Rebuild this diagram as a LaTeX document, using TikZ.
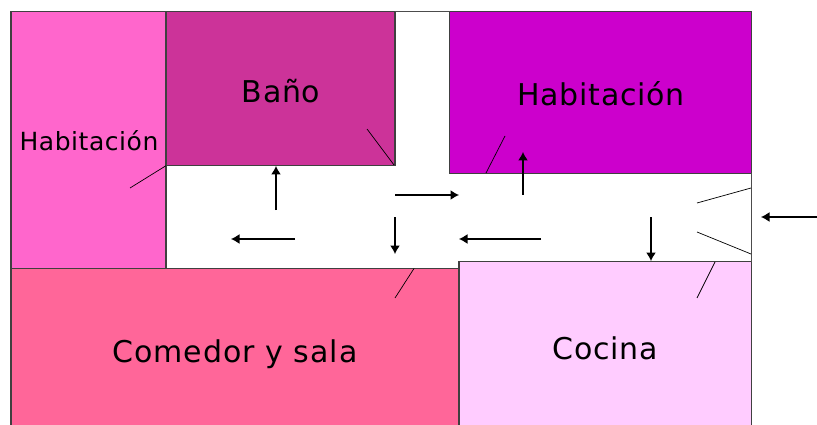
\documentclass[tikz,border=0pt]{standalone}
\usepackage{fontspec}
\setmainfont[LetterSpace=2.2]{DejaVu Sans}
\newfontfamily\widefont[LetterSpace=3.4]{DejaVu Sans}
\usetikzlibrary{arrows.meta}
\definecolor{hleft}{HTML}{FF66CC}
\definecolor{hbano}{HTML}{CC3399}
\definecolor{hright}{HTML}{CC00CC}
\definecolor{hcomedor}{HTML}{FF6699}
\definecolor{hcocina}{HTML}{FFCCFF}
\tikzset{
  room/.style={draw=black!75,line width=1.1pt},
  label/.style={inner sep=0pt,anchor=base,text=black,font=\fontsize{30}{30}\selectfont},
  widelabel/.style={inner sep=0pt,anchor=base,text=black,font=\widefont\fontsize{30}{30}\selectfont},
  smalllabel/.style={inner sep=0pt,anchor=base,text=black,font=\fontsize{25}{25}\selectfont},
  door/.style={draw=black,line width=0.7pt},
  flow/.style={draw=black,line width=1.3pt,-{Latex[length=8.5pt,width=10pt]}},
  wall/.style={draw=black!70,line width=0.8pt}
}
\begin{document}
\begin{tikzpicture}[x=1pt,y=-1pt]
\useasboundingbox (0,0) rectangle (817,425);
% rooms
\filldraw[room,fill=hleft] (11,11.5) rectangle (166,268.5);
\filldraw[room,fill=hbano] (166,11.5) rectangle (395,165.7);
\filldraw[room,fill=hright] (449.7,11.5) rectangle (751.5,173.5);
\filldraw[room,fill=hcomedor] (11,268.5) rectangle (459,427);
\filldraw[room,fill=hcocina] (459,261.7) rectangle (751.5,427);
% walls
\draw[wall] (395,11.5) -- (449.7,11.5);
\draw[wall] (751.5,173.5) -- (751.5,261.7);
% door leaves
\draw[door] (130,188) -- (166,165.7);
\draw[door] (367,129) -- (394,165);
\draw[door] (486,173) -- (505,136);
\draw[door] (395,298) -- (414,268.5);
\draw[door] (697,298) -- (715,262);
\draw[door] (697,203) -- (751,188);
\draw[door] (697,232) -- (751,254);
% flow arrows
\draw[flow] (276,210) -- (276,166);
\draw[flow] (395,195) -- (459,195);
\draw[flow] (523,195) -- (523,152);
\draw[flow] (295,239) -- (231,239);
\draw[flow] (395,217) -- (395,254);
\draw[flow] (541,239) -- (459,239);
\draw[flow] (651,217) -- (651,261);
\draw[flow] (817,217) -- (761,217);
% labels
\node[smalllabel] (t1) at (89,150.7) {Habitación};
\node[label] (t2) at (281,102.5) {Baño};
\node[label] (t3) at (601,105.5) {Habitación};
\node[widelabel] (t4) at (235,362.7) {Comedor y sala};
\node[label] (t5) at (605,359.2) {Cocina};
\end{tikzpicture}
\end{document}
